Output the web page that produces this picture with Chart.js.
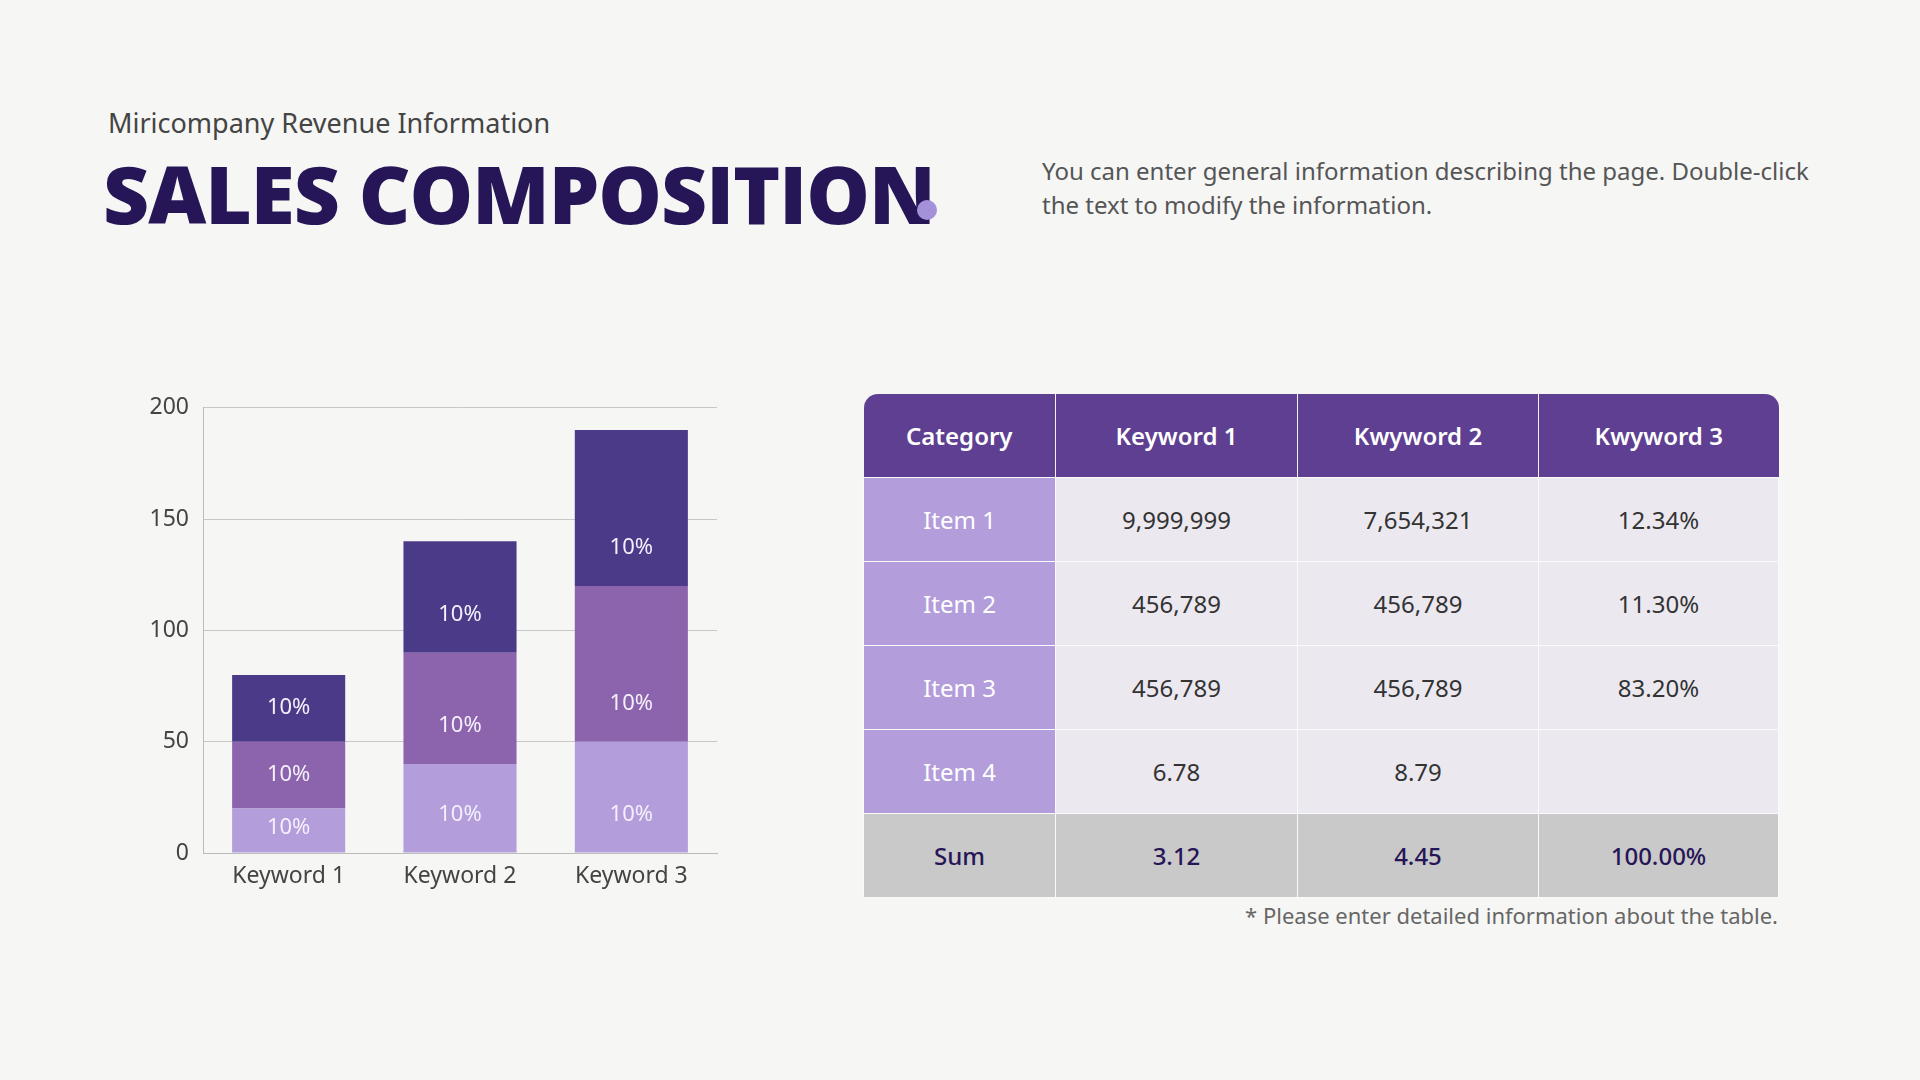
<!DOCTYPE html>
<html>
<head>
<meta charset="utf-8">
<script src="https://cdn.jsdelivr.net/npm/chart.js@4"></script>
<style>
  body { margin: 0; width: 1920px; height: 1080px; background: #f6f6f5; font-family: "Noto Sans", sans-serif; position: relative; overflow: hidden; }
  .sub { position: absolute; left: 108px; top: 104px; font-size: 27px; color: #444; }
  .title { position: absolute; left: 103px; top: 138px; font-family: "Open Sans", sans-serif; font-weight: 800; font-size: 80px; color: #261557; letter-spacing: -1px; }
  .dot { position: absolute; left: 917px; top: 200px; width: 20px; height: 20px; border-radius: 50%; background: #a591d9; }
  .desc { position: absolute; left: 1042px; top: 154px; width: 780px; font-size: 24px; line-height: 34px; color: #555; }
  #chartWrap { position: absolute; left: 140px; top: 380px; width: 580px; height: 513px; }
  table { position: absolute; left: 863px; top: 394px; width: 915px; border-collapse: collapse; table-layout: fixed; font-size: 24px; }
  th { background: #5f3f92; color: #fff; font-weight: 600; height: 81px; border-right: 1px solid #f2f2f2; }
  th:first-child { border-top-left-radius: 14px; }
  th:last-child { border-top-right-radius: 14px; border-right: none; }
  td { height: 81px; text-align: center; color: #333; background: #ebe9ef; border: 1px solid #fafafa; }
  td.item { background: #b39ddb; color: #fff; }
  tr.sum td { background: #c9c9c9; color: #261557; font-weight: 500; }
  .note { position: absolute; right: 142px; top: 900px; font-size: 22px; color: #666; }
</style>
</head>
<body>
<div class="sub">Miricompany Revenue Information</div>
<div class="title">SALES COMPOSITION</div>
<div class="dot"></div>
<div class="desc">You can enter general information describing the page. Double-click the text to modify the information.</div>
<div id="chartWrap"><canvas id="chart"></canvas></div>
<table>
  <colgroup><col style="width:192px"><col style="width:242px"><col style="width:241px"><col style="width:240px"></colgroup>
  <tr><th>Category</th><th>Keyword 1</th><th>Kwyword 2</th><th>Kwyword 3</th></tr>
  <tr><td class="item">Item 1</td><td>9,999,999</td><td>7,654,321</td><td>12.34%</td></tr>
  <tr><td class="item">Item 2</td><td>456,789</td><td>456,789</td><td>11.30%</td></tr>
  <tr><td class="item">Item 3</td><td>456,789</td><td>456,789</td><td>83.20%</td></tr>
  <tr><td class="item">Item 4</td><td>6.78</td><td>8.79</td><td></td></tr>
  <tr class="sum"><td>Sum</td><td>3.12</td><td>4.45</td><td>100.00%</td></tr>
</table>
<div class="note">* Please enter detailed information about the table.</div>
<script>
const categories = ["Keyword 1", "Keyword 2", "Keyword 3"];
const seriesLight = [20, 40, 50];
const seriesMid = [30, 50, 70];
const seriesDark = [30, 50, 70];
const segmentLabels = ["10%", "10%", "10%"];
const yTicks = [0, 50, 100, 150, 200];

const barLabels = {
  id: "barLabels",
  afterDatasetsDraw(chart) {
    const ctx = chart.ctx;
    ctx.save();
    ctx.fillStyle = "#f4f0fb";
    ctx.font = "22px 'Noto Sans'";
    ctx.textAlign = "center";
    ctx.textBaseline = "middle";
    chart.data.datasets.forEach((ds, i) => {
      chart.getDatasetMeta(i).data.forEach((bar, j) => {
        const h = bar.base - bar.y;
        ctx.fillText(segmentLabels[j], bar.x, bar.base - Math.min(h * 0.42, 32) - 6);
      });
    });
    ctx.restore();
  },
};

new Chart(document.getElementById("chart"), {
  type: "bar",
  data: {
    labels: categories,
    datasets: [
      { data: seriesLight, backgroundColor: "#b39ddb" },
      { data: seriesMid, backgroundColor: "#8c64ad" },
      { data: seriesDark, backgroundColor: "#4b3a88" },
    ],
  },
  options: {
    responsive: true,
    maintainAspectRatio: false,
    animation: false,
    layout: { padding: { top: 10, right: 3 } },
    plugins: { legend: { display: false }, tooltip: { enabled: false } },
    datasets: { bar: { barPercentage: 0.66, categoryPercentage: 1 } },
    scales: {
      x: {
        stacked: true,
        grid: { display: false },
        border: { color: "#bbb" },
        ticks: { color: "#444", font: { size: 23, family: "Noto Sans" }, padding: 2 },
        afterFit: (s) => { s.height = 40; },
      },
      y: {
        stacked: true,
        min: 0,
        max: 200,
        afterBuildTicks: (s) => { s.ticks = yTicks.map((v) => ({ value: v })); },
        grid: { color: "#c8c8c8", drawTicks: false },
        border: { color: "#bbb" },
        ticks: { color: "#444", font: { size: 23, family: "Noto Sans" }, padding: 14 },
        afterFit: (s) => { s.width = 63; },
      },
    },
  },
  plugins: [barLabels],
});
</script>
</body>
</html>
